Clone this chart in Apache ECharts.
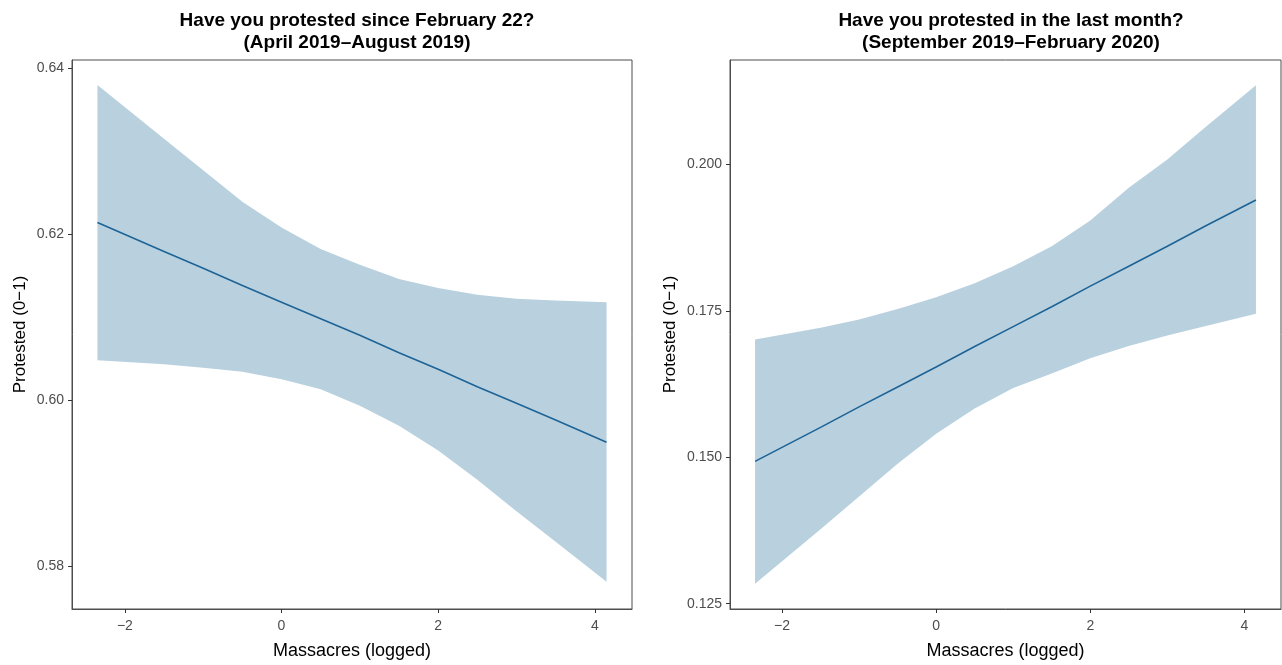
<!DOCTYPE html>
<html>
<head>
<meta charset="utf-8">
<script src="https://cdn.jsdelivr.net/npm/echarts@6/dist/echarts.min.js"></script>
<style>
  html, body { margin: 0; padding: 0; background: #fff; }
  #main { width: 1282px; height: 665px; }
</style>
</head>
<body>
<div id="main"></div>
<script>
// x grid (massacres, logged) shared by both panels
var xs = [-2.35, -1.5, -1.0, -0.5, 0, 0.5, 1.0, 1.5, 2.0, 2.5, 3.0, 3.5, 4.15];

// left panel: since February 22
var fitA   = [0.6214, 0.6179, 0.6159, 0.6138, 0.6118, 0.6098, 0.6078, 0.6057, 0.6037, 0.6016, 0.5996, 0.5976, 0.5949];
var lowerA = [0.6048, 0.6043, 0.6039, 0.6034, 0.6025, 0.6013, 0.5993, 0.5969, 0.5939, 0.5904, 0.5866, 0.5829, 0.5781];
var upperA = [0.6380, 0.6315, 0.6277, 0.6239, 0.6208, 0.6182, 0.6163, 0.6146, 0.6135, 0.6127, 0.6122, 0.6120, 0.6118];

// right panel: last month
var fitB   = [0.1493, 0.1551, 0.1586, 0.1620, 0.1654, 0.1689, 0.1723, 0.1757, 0.1792, 0.1826, 0.1860, 0.1895, 0.1939];
var lowerB = [0.1284, 0.1377, 0.1433, 0.1489, 0.1540, 0.1583, 0.1618, 0.1643, 0.1669, 0.1690, 0.1708, 0.1724, 0.1745];
var upperB = [0.1701, 0.1721, 0.1735, 0.1753, 0.1773, 0.1797, 0.1826, 0.1860, 0.1904, 0.1960, 0.2008, 0.2064, 0.2135];

var xTicks  = [-2, 0, 2, 4];
var yTicksA = [0.58, 0.60, 0.62, 0.64];
var yTicksB = [0.125, 0.150, 0.175, 0.200];

var titleA = ['Have you protested since February 22?', '(April 2019\u2013August 2019)'];
var titleB = ['Have you protested in the last month?', '(September 2019\u2013February 2020)'];

var bandColor = '#b9d1df';
var lineColor = '#1d6396';
var font = 'Liberation Sans, Arial, Helvetica, sans-serif';

function minus(v) { return String(v).replace('-', '\u2212'); }

function xAxisFor(idx) {
  return {
    type: 'value', gridIndex: idx, min: -2.675, max: 4.475,
    name: 'Massacres (logged)', nameLocation: 'middle', nameGap: 33,
    nameTextStyle: { fontFamily: font, fontSize: 18, color: '#000' },
    splitLine: { show: false },
    axisLine: { show: true, onZero: false, lineStyle: { color: '#4d4d4d' } },
    axisTick: { show: true, length: 4, customValues: xTicks, lineStyle: { color: '#333' } },
    axisLabel: { customValues: xTicks, fontFamily: font, fontSize: 14, color: '#4d4d4d', margin: 10,
      formatter: function (v) { return minus(v); } }
  };
}

function yAxisFor(idx, min, max, ticks, digits, gap) {
  return {
    type: 'value', gridIndex: idx, min: min, max: max,
    name: 'Protested (0\u22121)', nameLocation: 'middle', nameGap: gap,
    nameTextStyle: { fontFamily: font, fontSize: 17, color: '#000' },
    splitLine: { show: false },
    axisLine: { show: true, onZero: false, lineStyle: { color: '#4d4d4d' } },
    axisTick: { show: true, length: 4, customValues: ticks, lineStyle: { color: '#333' } },
    axisLabel: { customValues: ticks, fontFamily: font, fontSize: 14, color: '#4d4d4d', margin: 8,
      formatter: function (v) { return v.toFixed(digits); } }
  };
}

function bandSeries(idx, lower, upper) {
  return {
    type: 'custom', xAxisIndex: idx, yAxisIndex: idx, silent: true, z: 1,
    data: xs.map(function (x, i) { return [x, lower[i], upper[i]]; }),
    encode: { x: 0, y: [1, 2] },
    renderItem: function (params, api) {
      if (params.dataIndex !== 0) return;
      var pts = [];
      for (var i = 0; i < xs.length; i++) pts.push(api.coord([xs[i], upper[i]]));
      for (var j = xs.length - 1; j >= 0; j--) pts.push(api.coord([xs[j], lower[j]]));
      return { type: 'polygon', shape: { points: pts }, style: { fill: bandColor } };
    }
  };
}

function lineSeries(idx, fit) {
  return {
    type: 'line', xAxisIndex: idx, yAxisIndex: idx, z: 3,
    showSymbol: false, silent: true,
    lineStyle: { color: lineColor, width: 1.6 },
    data: xs.map(function (x, i) { return [x, fit[i]]; })
  };
}

function titleFor(lines, cx, top) {
  return {
    text: lines.join('\n'), left: cx, top: top, textAlign: 'center',
    textStyle: { fontFamily: font, fontSize: 19, fontWeight: 'bold', color: '#000', lineHeight: 22 }
  };
}

var chart = echarts.init(document.getElementById('main'), null, { renderer: 'canvas' });
chart.setOption({
  backgroundColor: '#fff',
  animation: false,
  title: [titleFor(titleA, 352, 5), titleFor(titleB, 1006, 5)],
  grid: [
    { left: 72, top: 60, width: 560, height: 559, show: true, borderColor: '#4d4d4d', borderWidth: 1, backgroundColor: '#fff' },
    { left: 730, top: 60, width: 551, height: 559, show: true, borderColor: '#4d4d4d', borderWidth: 1, backgroundColor: '#fff' }
  ],
  xAxis: [xAxisFor(0), xAxisFor(1)],
  yAxis: [
    yAxisFor(0, 0.5748, 0.6410, yTicksA, 2, 43),
    yAxisFor(1, 0.1241, 0.2178, yTicksB, 3, 51)
  ],
  series: [
    bandSeries(0, lowerA, upperA),
    lineSeries(0, fitA),
    bandSeries(1, lowerB, upperB),
    lineSeries(1, fitB)
  ]
});
</script>
</body>
</html>
